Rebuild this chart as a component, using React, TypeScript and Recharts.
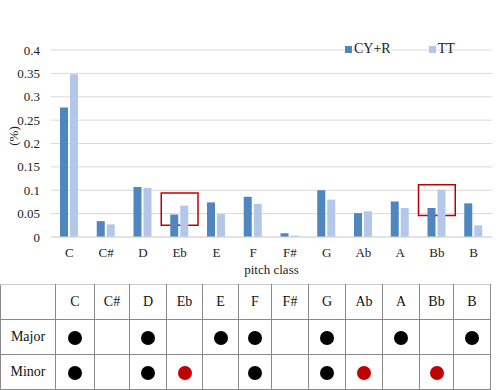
import React from "react";
import { Bar, BarChart, CartesianGrid, Legend, ReferenceArea, XAxis, YAxis } from "recharts";

const PITCHES = ["C", "C#", "D", "Eb", "E", "F", "F#", "G", "Ab", "A", "Bb", "B"];
const CYR = [0.277, 0.034, 0.107, 0.048, 0.074, 0.086, 0.008, 0.1, 0.051, 0.076, 0.062, 0.072];
const TT = [0.348, 0.027, 0.105, 0.067, 0.049, 0.071, 0.003, 0.08, 0.055, 0.062, 0.101, 0.025];
const Y_TICKS = [0, 0.05, 0.1, 0.15, 0.2, 0.25, 0.3, 0.35, 0.4];

// highlighted boxes: pitch, low, high
const BOXES: [string, number, number][] = [
  ["Eb", 0.025, 0.094],
  ["Bb", 0.046, 0.112],
];

// scale membership: 0 = none, 1 = black dot, 2 = red dot
const MAJOR = [1, 0, 1, 0, 1, 1, 0, 1, 0, 1, 0, 1];
const MINOR = [1, 0, 1, 2, 0, 1, 0, 1, 2, 0, 2, 0];

const DARK = "#4e86bf";
const LIGHT = "#b3c7e8";
const RED = "#c00000";
const GRID = "#d9d9d9";
const FONT = "Liberation Serif, serif";

const COL_W = [55, 39, 35, 37, 36, 36, 33, 37, 37, 37, 37, 34, 37];

const data = PITCHES.map((p, i) => ({ pitch: p, cyr: CYR[i], tt: TT[i] }));

const TICK = { fontSize: 13, fill: "#222", fontFamily: FONT, style: { fontFamily: FONT } } as const;

function LegendBox() {
  const items = [
    { label: "CY+R", color: DARK },
    { label: "TT", color: LIGHT },
  ];
  return (
    <div style={{ display: "flex", fontFamily: FONT, fontSize: 14, color: "#222", lineHeight: "16px" }}>
      {items.map((it, i) => (
        <div key={it.label} style={{ display: "flex", alignItems: "center", marginRight: i === 0 ? 38 : 0 }}>
          <span style={{ display: "inline-block", width: 7, height: 7, background: it.color, marginRight: 2 }} />
          <span>{it.label}</span>
        </div>
      ))}
    </div>
  );
}

function Dot({ v }: { v: number }) {
  if (!v) return null;
  return (
    <span
      style={{
        display: "inline-block",
        width: 14,
        height: 14,
        borderRadius: "50%",
        background: v === 2 ? RED : "#000",
        verticalAlign: "middle",
      }}
    />
  );
}

function ScaleTable() {
  const cell: React.CSSProperties = {
    border: "1px solid #8a8a8a",
    textAlign: "center",
    padding: 0,
    fontFamily: FONT,
    fontSize: 14,
    color: "#111",
  };
  const rows: [string, number[]][] = [
    ["Major", MAJOR],
    ["Minor", MINOR],
  ];
  return (
    <table style={{ borderCollapse: "collapse", tableLayout: "fixed", width: 490, position: "absolute", top: 284, left: 0 }}>
      <colgroup>
        {COL_W.map((w, i) => (
          <col key={i} style={{ width: w }} />
        ))}
      </colgroup>
      <tbody>
        <tr style={{ height: 35 }}>
          <td style={{ ...cell, borderTopColor: "#c8c8c8" }} />
          {PITCHES.map((p) => (
            <td key={p} style={{ ...cell, borderTopColor: "#c8c8c8" }}>
              {p}
            </td>
          ))}
        </tr>
        {rows.map(([name, vals]) => (
          <tr key={name} style={{ height: 35 }}>
            <td style={cell}>{name}</td>
            {vals.map((v, i) => (
              <td key={i} style={cell}>
                <Dot v={v} />
              </td>
            ))}
          </tr>
        ))}
      </tbody>
    </table>
  );
}

export default function App() {
  return (
    <div
      style={{
        position: "absolute",
        top: 0,
        left: 0,
        width: 498,
        height: 390,
        background: "#fff",
        overflow: "hidden",
        fontFamily: FONT,
      }}
    >
      <BarChart
        width={498}
        height={284}
        data={data}
        margin={{ top: 34, right: 6, left: 0, bottom: 0 }}
        barSize={8}
        barGap={2}
        style={{ fontFamily: FONT }}
      >
        <CartesianGrid stroke={GRID} vertical={false} />
        <XAxis
          dataKey="pitch"
          height={47}
          tick={TICK}
          tickLine={false}
          tickMargin={5}
          axisLine={{ stroke: GRID }}
          label={{
            value: "pitch class",
            position: "insideBottom",
            offset: 10,
            fontSize: 13,
            fill: "#222",
            style: { fontFamily: FONT, textAnchor: "middle" },
          }}
        />
        <YAxis
          width={51}
          domain={[0, 0.4]}
          ticks={Y_TICKS}
          tick={TICK}
          tickLine={false}
          tickMargin={5}
          axisLine={false}
          label={{
            content: () => (
              <text
                x={13}
                y={136}
                transform="rotate(-90 13 136)"
                textAnchor="middle"
                dominantBaseline="central"
                fontSize={13}
                fill="#222"
                style={{ fontFamily: FONT }}
              >
                (%)
              </text>
            ),
          }}
        />
        <Legend
          verticalAlign="top"
          content={() => <LegendBox />}
          wrapperStyle={{ position: "absolute", top: 41, left: 345, width: 140 }}
        />
        <Bar dataKey="cyr" name="CY+R" fill={DARK} isAnimationActive={false} />
        <Bar dataKey="tt" name="TT" fill={LIGHT} isAnimationActive={false} />
        {BOXES.map(([p, lo, hi]) => (
          <ReferenceArea key={p} x1={p} x2={p} y1={lo} y2={hi} fill="none" fillOpacity={0} stroke={RED} strokeWidth={1.5} />
        ))}
      </BarChart>
      <ScaleTable />
    </div>
  );
}
